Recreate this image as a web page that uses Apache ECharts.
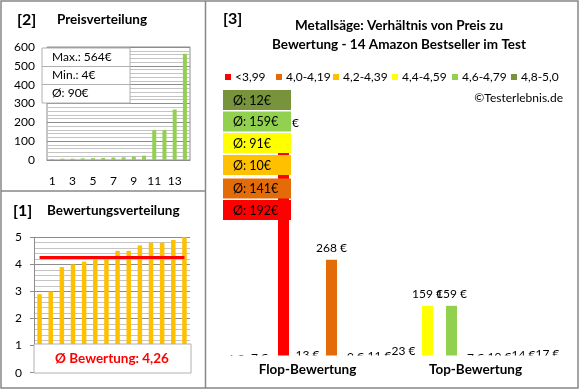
<!DOCTYPE html>
<html><head><meta charset="utf-8">
<script src="https://cdn.jsdelivr.net/npm/echarts@6/dist/echarts.min.js"></script>
<style>html,body{margin:0;padding:0;background:#fff}#c{width:580px;height:390px}</style>
</head><body><div id="c"></div>
<script>
// ---- data ----
const priceCategories = ['1','2','3','4','5','6','7','8','9','10','11','12','13','14'];
const priceValues = [4, 7, 7, 9, 10, 11, 13, 14, 17, 23, 159, 159, 268, 564];
const ratingValues = [2.9, 3.0, 3.9, 4.0, 4.1, 4.3, 4.3, 4.5, 4.5, 4.7, 4.8, 4.8, 4.9, 5.0];
const ratingAverage = 4.26;
const ratingAverageText = 'Ø Bewertung: 4,26';
const priceStats = ['Max.: 564€', 'Min.: 4€', 'Ø: 90€'];
const slotPrices = [4, 7, 564, 13, 268, 9, 11, 23, 159, 159, 7, 10, 14, 17];
const slotRatings = [2.9, 3.0, 3.9, 4.0, 4.1, 4.3, 4.3, 4.5, 4.5, 4.7, 4.8, 4.8, 4.9, 5.0];
const groupLabels = ['<3,99', '4,0-4,19', '4,2-4,39', '4,4-4,59', '4,6-4,79', '4,8-5,0'];
const groupUpper = [4.0, 4.2, 4.4, 4.6, 4.8, 99];
const groupAverages = [192, 141, 10, 91, 159, 12];
const sideCategories = ['Flop-Bewertung', 'Top-Bewertung'];
const priceAxisMax = 600, priceAxisStep = 100;
const ratingAxisMax = 5, ratingAxisStep = 1;
const titleMain = ['Metallsäge: Verhältnis von Preis zu', 'Bewertung - 14 Amazon Bestseller im Test'];

// ---- styles ----
const groupColors = ['#FF0000', '#E36C09', '#FFC000', '#FFFF00', '#92D050', '#77933C'];
const FONT = 'Lato';
const frameColor = '#878787';
function groupOf(r) { for (let i = 0; i < groupUpper.length; i++) if (r < groupUpper[i]) return i; return 5; }

const slotData = slotPrices.map((v, i) => ({ value: v, itemStyle: { color: groupColors[groupOf(slotRatings[i])] } }));

const graphic = [];
// frame
graphic.push({ type: 'rect', shape: { x: 1, y: 1, width: 577, height: 387 }, style: { fill: 'none', stroke: frameColor, lineWidth: 1.5 }, z: 30 });
graphic.push({ type: 'line', shape: { x1: 205.5, y1: 1, x2: 205.5, y2: 388 }, style: { stroke: frameColor, lineWidth: 1.5 }, z: 30 });
graphic.push({ type: 'line', shape: { x1: 1, y1: 191, x2: 205, y2: 191 }, style: { stroke: frameColor, lineWidth: 1.5 }, z: 30 });
// titles
const titleStyle = (x, y, t, s) => ({ type: 'text', x: x, y: y, style: { text: t, font: 'bold ' + s + 'px ' + FONT, fill: '#000', textVerticalAlign: 'middle' }, z: 30 });
graphic.push(titleStyle(17, 20, '[2]', 16));
graphic.push(titleStyle(57, 20, 'Preisverteilung', 13.5));
graphic.push(titleStyle(13, 211, '[1]', 16));
graphic.push(titleStyle(47, 211, 'Bewertungsverteilung', 13.5));
graphic.push(titleStyle(223, 19, '[3]', 16));
graphic.push({ type: 'text', x: 399, y: 26, style: { text: titleMain[0], font: 'bold 13.5px ' + FONT, fill: '#000', textAlign: 'center', textVerticalAlign: 'middle' }, z: 30 });
graphic.push({ type: 'text', x: 399, y: 45, style: { text: titleMain[1], font: 'bold 13.5px ' + FONT, fill: '#000', textAlign: 'center', textVerticalAlign: 'middle' }, z: 30 });
// price stats box
graphic.push({ type: 'rect', shape: { x: 42, y: 48, width: 88, height: 55 }, style: { fill: '#fff', stroke: '#b0b0b0', lineWidth: 1 }, z: 20 });
graphic.push({ type: 'line', shape: { x1: 42, y1: 66.5, x2: 130, y2: 66.5 }, style: { stroke: '#b0b0b0', lineWidth: 1 }, z: 21 });
graphic.push({ type: 'line', shape: { x1: 42, y1: 84.5, x2: 130, y2: 84.5 }, style: { stroke: '#b0b0b0', lineWidth: 1 }, z: 21 });
priceStats.forEach((t, i) => graphic.push({ type: 'text', x: 52, y: 57.5 + i * 18, style: { text: t, font: '12px ' + FONT, fill: '#000', textVerticalAlign: 'middle' }, z: 22 }));
// rating average box
graphic.push({ type: 'rect', shape: { x: 34, y: 344, width: 157, height: 29 }, style: { fill: '#fff', stroke: '#b0b0b0', lineWidth: 1 }, z: 20 });
graphic.push({ type: 'text', x: 112, y: 358.5, style: { text: ratingAverageText, font: 'bold 13.5px ' + FONT, fill: '#FF0000', textAlign: 'center', textVerticalAlign: 'middle' }, z: 22 });
// legend
const legSq = [225, 276, 333, 392, 452, 511];
groupLabels.forEach((t, i) => {
  graphic.push({ type: 'rect', shape: { x: legSq[i], y: 74, width: 6, height: 6 }, style: { fill: groupColors[i] }, z: 30 });
  graphic.push({ type: 'text', x: legSq[i] + 10, y: 77.5, style: { text: t, font: '12px ' + FONT, fill: '#000', textVerticalAlign: 'middle' }, z: 30 });
});
graphic.push({ type: 'text', x: 563, y: 98, style: { text: '©Testerlebnis.de', font: '12px ' + FONT, fill: '#000', textAlign: 'right', textVerticalAlign: 'middle' }, z: 30 });
// average boxes (top: best group)
const boxY = [90, 111.5, 133, 155, 178.5, 200];
for (let k = 0; k < 6; k++) {
  const g = 5 - k;
  graphic.push({ type: 'rect', shape: { x: 223, y: boxY[k], width: 68, height: 20 }, style: { fill: groupColors[g] }, z: 20 });
  graphic.push({ type: 'text', x: 233, y: boxY[k] + 10.5, style: { text: 'Ø: ' + groupAverages[g] + '€', font: '12.5px ' + FONT, fill: '#000', textVerticalAlign: 'middle' }, z: 21 });
}
// white mask at the bottom of chart [3]
graphic.push({ type: 'rect', shape: { x: 207, y: 355.5, width: 370, height: 32 }, style: { fill: '#fff' }, z: 15 });

const chart = echarts.init(document.getElementById('c'), null, { renderer: 'canvas' });
chart.setOption({
  animation: false,
  backgroundColor: '#fff',
  textStyle: { fontFamily: FONT },
  grid: [
    { left: 47, right: 390, top: 47, bottom: 230, show: true, borderColor: '#8c8c8c', borderWidth: 1 },
    { left: 34, right: 390, top: 237.3, bottom: 17.3 },
    { left: 223.5, width: 336, top: 35, bottom: 17 }
  ],
  xAxis: [
    { gridIndex: 0, type: 'category', data: priceCategories, axisLine: { lineStyle: { color: '#8c8c8c' } }, axisTick: { show: false },
      axisLabel: { interval: 1, color: '#000', fontSize: 12, margin: 15 } },
    { gridIndex: 1, type: 'category', data: priceCategories, axisLine: { show: false }, axisTick: { show: false }, axisLabel: { show: false } },
    { gridIndex: 2, type: 'category', data: priceCategories, show: false },
    { gridIndex: 2, type: 'category', data: sideCategories, position: 'bottom', offset: -12, z: 40,
      axisLine: { show: false }, axisTick: { show: false },
      axisLabel: { color: '#000', fontSize: 13.5, fontWeight: 'bold', margin: 2 } }
  ],
  yAxis: [
    { gridIndex: 0, type: 'value', min: 0, max: priceAxisMax, interval: priceAxisStep,
      axisLine: { show: false }, axisTick: { show: false },
      axisLabel: { color: '#000', fontSize: 12, margin: 12 },
      splitLine: { lineStyle: { color: '#8c8c8c' } },
      minorTick: { show: false, splitNumber: 5 }, minorSplitLine: { show: true, lineStyle: { color: '#c4c4c4' } } },
    { gridIndex: 1, type: 'value', min: 0, max: ratingAxisMax, interval: ratingAxisStep,
      axisLine: { show: true, lineStyle: { color: '#8c8c8c' } }, axisTick: { show: true, length: 4, lineStyle: { color: '#8c8c8c' } },
      axisLabel: { color: '#000', fontSize: 12, margin: 12 },
      splitLine: { lineStyle: { color: '#8c8c8c' } },
      minorTick: { show: false, splitNumber: 5 }, minorSplitLine: { show: true, lineStyle: { color: '#c4c4c4' } } },
    { gridIndex: 2, type: 'value', min: 0, max: 800, show: false }
  ],
  series: [
    { type: 'bar', xAxisIndex: 0, yAxisIndex: 0, data: priceValues, barWidth: 4, itemStyle: { color: '#92D050' } },
    { type: 'bar', xAxisIndex: 1, yAxisIndex: 1, data: ratingValues, barWidth: 4.5, itemStyle: { color: '#FFC000' },
      markLine: { silent: true, symbol: 'none', label: { show: false },
        lineStyle: { color: '#FF0000', width: 3, type: 'solid' },
        data: [[{ xAxis: 0, yAxis: ratingAverage }, { xAxis: 13, yAxis: ratingAverage }]] } },
    { type: 'bar', xAxisIndex: 2, yAxisIndex: 2, data: slotData, barWidth: 11,
      label: { show: true, position: 'top', distance: 6, formatter: '{c} €', color: '#000', fontSize: 12 } }
  ],
  graphic: graphic
});
</script>
</body></html>
